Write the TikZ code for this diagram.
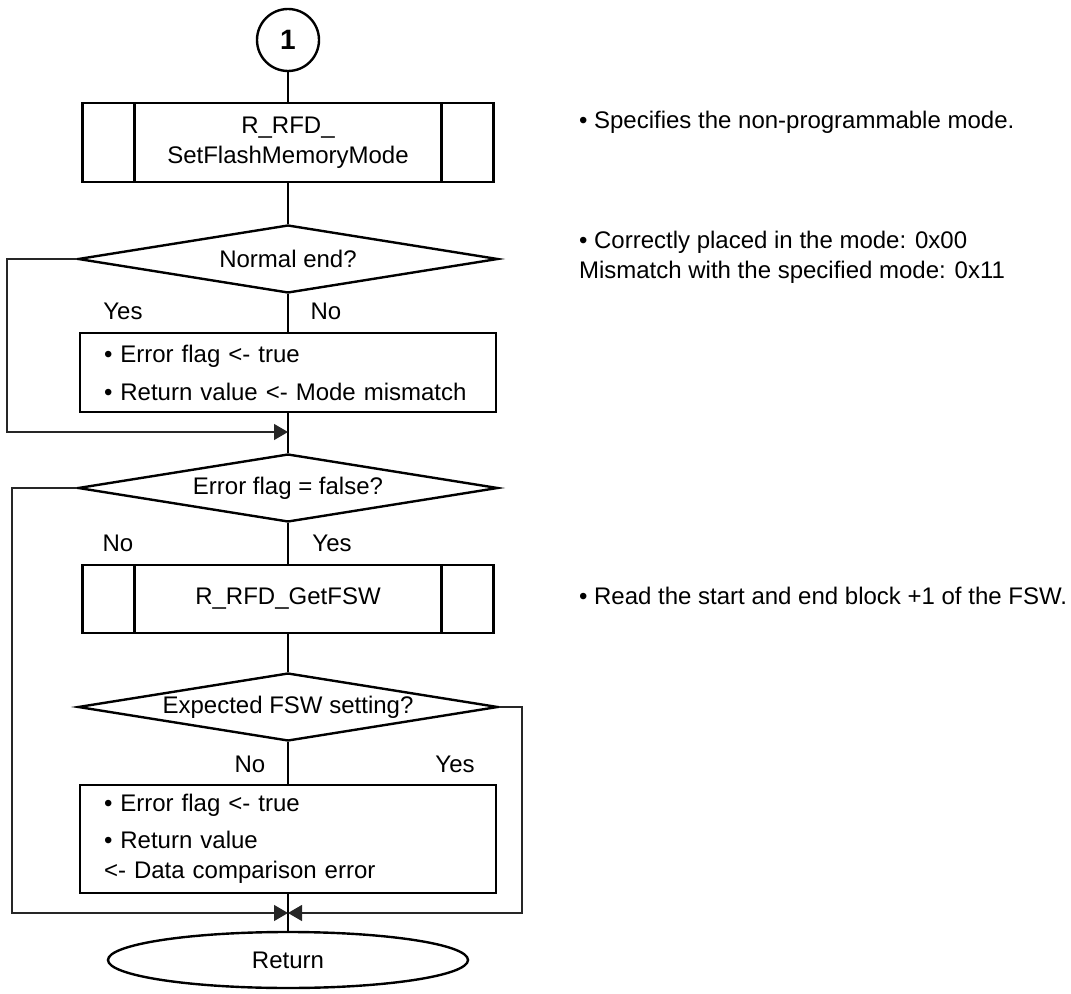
\documentclass[tikz,border=0pt]{standalone}
\usepackage{fontspec}
\setmainfont{Liberation Sans}
\usepackage{tikz}
\usetikzlibrary{shapes.geometric,arrows.meta,calc}

\begin{document}
\begin{tikzpicture}[x=0.5pt,y=-0.5pt,>={Triangle[length=7pt,width=8pt]},
		font=\fontsize{12}{15}\selectfont,
		box/.style={draw,line width=1.2pt,rectangle,inner sep=0pt},
		subr/.style={box,minimum width=205.5pt,align=center,
			path picture={
				\draw[line width=1.2pt] ([xshift=26pt]path picture bounding box.north west) -- ([xshift=26pt]path picture bounding box.south west);
				\draw[line width=1.2pt] ([xshift=-26pt]path picture bounding box.north east) -- ([xshift=-26pt]path picture bounding box.south east);
			}},
		proc/.style={box,text width=184pt,inner xsep=12pt,align=left},
		decision/.style={draw,line width=1.2pt,diamond,aspect=7,minimum width=210pt,minimum height=34pt,inner sep=0pt},
		flow/.style={line width=1pt},
		back/.style={line width=0.6pt,black!85},
	]
		\useasboundingbox (0,0) rectangle (1071,994);

		\node[circle,draw,line width=1.2pt,minimum size=31pt,inner sep=0pt,font=\fontsize{14}{14}\selectfont\bfseries] (start) at (288,40) {1};
		\node[subr,minimum height=39.5pt] (setmode) at (288,142.5) {R\_RFD\_\\SetFlashMemoryMode};
		\node[decision] (normal) at (288,259) {Normal end?};
		\node[proc,minimum height=39.5pt] (err1) at (288,372.5) {\textbullet\ Error flag <- true\\[4pt]\textbullet\ Return value <- Mode mismatch};
		\node[decision] (flagchk) at (288,488) {Error flag = false?};
		\node[subr,minimum height=34pt] (getfsw) at (288,599) {R\_RFD\_GetFSW};
		\node[decision] (fswchk) at (288,707) {Expected FSW setting?};
		\node[proc,minimum height=54pt] (err2) at (288,839) {\textbullet\ Error flag <- true\\[3.5pt]\textbullet\ Return value\\<- Data comparison error};
		\node[ellipse,draw,line width=1.2pt,minimum width=180pt,minimum height=28pt] (ret) at (288,960) {Return};

		\node (yes1) at (123,311) {Yes};
		\node (no1) at (326,311) {No};
		\node (no2) at (118,543) {No};
		\node (yes2) at (332,543) {Yes};
		\node (no3) at (250,764) {No};
		\node (yes3) at (455,764) {Yes};

		\node[anchor=west] (note1) at (572,122) {\textbullet\ Specifies the non-programmable mode.};
		\node[anchor=west,align=left] (note2) at (572,257) {\textbullet\ Correctly placed in the mode: 0x00\\Mismatch with the specified mode: 0x11};
		\node[anchor=west] (note3) at (572,596) {\textbullet\ Read the start and end block +1 of the FSW.};

		\coordinate (join1) at (288,432);
		\coordinate (side1) at (7,432);
		\coordinate (join2) at (288,913);
		\coordinate (side2) at (12,913);
		\coordinate (side3) at (522,913);

		\path[flow]
			(start) edge (setmode)
			(setmode) edge (normal)
			(normal) edge (err1)
			(err1) edge (flagchk)
			(flagchk) edge (getfsw)
			(getfsw) edge (fswchk)
			(fswchk) edge (err2)
			(err2) edge (ret)
		;
		\draw[back,->] (normal.west) -| (side1) -- (join1);
		\draw[back,->] (flagchk.west) -| (side2) -- (join2);
		\draw[back,->] (fswchk.east) -| (side3) -- (join2);
	\end{tikzpicture}
\end{document}
